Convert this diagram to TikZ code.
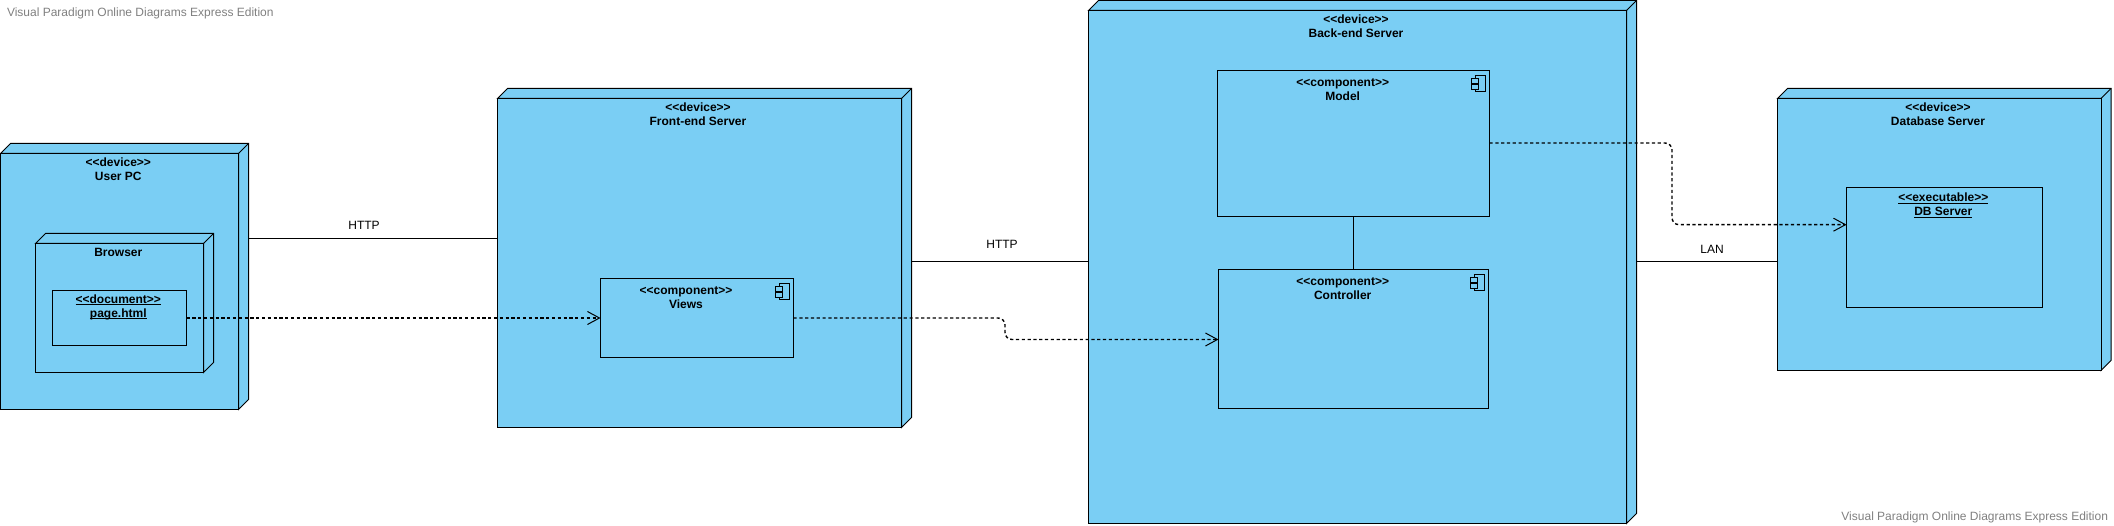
\documentclass[tikz,border=0pt]{standalone}
\usepackage{fontspec}
\newfontfamily\vpfont{Liberation Sans}
\usetikzlibrary{arrows.meta}
\definecolor{vpblue}{HTML}{7ACEF4}
\definecolor{vpgray}{HTML}{808080}
\newcommand{\ul}[1]{\underline{\smash{#1}}}
\tikzset{
  x=1pt,y=-1pt,
  edgeline/.style={draw=black,line width=1pt,line join=miter},
  facebox/.style={edgeline,fill=vpblue,rectangle,inner sep=0pt,outer sep=0pt,anchor=north west},
  extent/.style={rectangle,inner sep=0pt,outer sep=0pt,anchor=north west},
  boxlabel/.style={inner sep=0pt,outer sep=0pt,align=center,font=\vpfont\fontsize{12}{14}\selectfont\bfseries},
  linklabel/.style={inner sep=0pt,outer sep=0pt,font=\vpfont\fontsize{12}{14}\selectfont},
  mark text/.style={inner sep=0pt,outer sep=0pt,text=vpgray,font=\vpfont\fontsize{12}{14}\selectfont},
  assoc/.style={draw=black,line width=1pt},
  depend/.style={draw=black,line width=1.4pt,dash pattern=on 3.2pt off 2.6pt,rounded corners=7pt,
    -{Straight Barb[length=12pt,width=13pt,line width=1pt]}},
}
% #1 name, #2 x1, #3 y1, #4 x2, #5 y2 (front face)
\newcommand{\cubebox}[5]{%
  \node[extent,minimum width={(#4-#2+10)*1pt},minimum height={(#5-#3+10)*1pt}] (#1) at (#2,#3-10) {};
  \draw[edgeline,fill=vpblue] (#2,#3) -- (#2+10,#3-10) -- (#4+10,#3-10) -- (#4+10,#5-10) -- (#4,#5) -- (#4,#3) -- cycle;
  \draw[edgeline] (#4,#3) -- (#4+10,#3-10);
  \node[facebox,minimum width={(#4-#2)*1pt},minimum height={(#5-#3)*1pt}] (#1f) at (#2,#3) {};
}
\newcommand{\flatbox}[5]{%
  \node[facebox,minimum width={(#4-#2)*1pt},minimum height={(#5-#3)*1pt}] (#1) at (#2,#3) {};
}
\newcommand{\compicon}[1]{%
  \draw[edgeline,line width=0.9pt] ([shift={(-14.5,5)}]#1.north east) rectangle ([shift={(-4.5,21)}]#1.north east);
  \draw[edgeline,line width=0.9pt,fill=vpblue] ([shift={(-18,8)}]#1.north east) rectangle ([shift={(-11,12.5)}]#1.north east);
  \draw[edgeline,line width=0.9pt,fill=vpblue] ([shift={(-18,14)}]#1.north east) rectangle ([shift={(-11,18.5)}]#1.north east);
}
\begin{document}
\begin{tikzpicture}
\useasboundingbox (0,0) rectangle (2114,526);

\node[mark text,anchor=west] (markA) at (7,13) {Visual Paradigm Online Diagrams Express Edition};
\node[mark text,anchor=east] (markB) at (2108,517) {Visual Paradigm Online Diagrams Express Edition};

\cubebox{pc}{0.5}{153.5}{238.5}{409.5}
\cubebox{browser}{35.5}{243.5}{203.5}{372.5}
\flatbox{doc}{52.5}{290.5}{186.5}{345.5}
\cubebox{front}{497.5}{98.5}{901.5}{427.5}
\flatbox{views}{600.5}{278.5}{793.5}{357.5}
\cubebox{back}{1088.5}{10.5}{1626.5}{523.5}
\flatbox{model}{1217.5}{70.5}{1489.5}{216.5}
\flatbox{ctrl}{1218.5}{269.5}{1488.5}{408.5}
\cubebox{db}{1777.5}{98.5}{2101}{370.5}
\flatbox{exec}{1846.5}{188}{2042.5}{308}

\compicon{views}
\compicon{model}
\compicon{ctrl}

\node[boxlabel] (pcT) at (118.3,169.7) {<<device>>\\User PC};
\node[boxlabel] (browserT) at (118.3,252.7) {Browser};
\node[boxlabel] (docT) at (118.3,311.2) {\ul{<<document>>}\\\ul{page.html}};
\node[boxlabel] (frontT) at (698,114.7) {<<device>>\\Front-end Server};
\node[boxlabel] (viewsT) at (686,297.7) {<<component>>\\Views};
\node[boxlabel] (backT) at (1356,26.7) {<<device>>\\Back-end Server};
\node[boxlabel] (modelT) at (1342.7,89.7) {<<component>>\\Model};
\node[boxlabel] (ctrlT) at (1342.7,288.7) {<<component>>\\Controller};
\node[boxlabel] (dbT) at (1938,114.7) {<<device>>\\Database Server};
\node[boxlabel] (execT) at (1943.3,209.7) {\ul{<<executable>>}\\\ul{DB Server}};

\draw[assoc] (pc.east |- 0,238.3) -- node[linklabel,pos=0.5,xshift=-9pt,yshift=13pt] (httpA) {HTTP} (front.west |- 0,238.3);
\draw[assoc] (front.east |- 0,261.5) -- node[linklabel,pos=0.5,xshift=2pt,yshift=17pt] (httpB) {HTTP} (back.west |- 0,261.5);
\draw[assoc] (back.east |- 0,261.5) -- node[linklabel,pos=0.5,yshift=12pt,xshift=5pt] (lan) {LAN} (db.west |- 0,261.5);
\draw[assoc,line width=1.4pt] (model.south -| 1353.5,0) -- (ctrl.north -| 1353.5,0);

\draw[depend] (doc.east |- 0,318) -- (views.west |- 0,318);
\draw[depend] (views.east |- 0,318) -- (1005,318) -- (1005,339.5) -- (ctrl.west |- 0,339.5);
\draw[depend] (model.east |- 0,143) -- (1672,143) -- (1672,224.7) -- (exec.west |- 0,224.7);
\end{tikzpicture}
\end{document}
